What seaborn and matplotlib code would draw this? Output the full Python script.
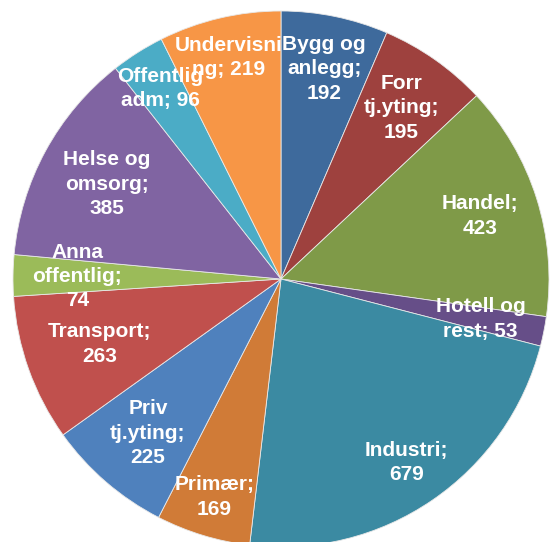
import numpy as np
import seaborn as sns
import matplotlib.pyplot as plt

# data (read clockwise from 12 o'clock)
categories = ["Bygg og anlegg", "Forr tj.yting", "Handel", "Hotell og rest",
              "Industri", "Primær", "Priv tj.yting", "Transport",
              "Anna offentlig", "Helse og omsorg", "Offentlig adm", "Undervisning"]
values = [192, 195, 423, 53, 679, 169, 225, 263, 74, 385, 96, 219]

# how Excel wrapped the labels
label_fmt = ["Bygg og\nanlegg;\n{}", "Forr\ntj.yting;\n{}", "Handel;\n{}",
             "Hotell og\nrest; {}", "Industri;\n{}", "Primær;\n{}",
             "Priv\ntj.yting;\n{}", "Transport;\n{}", "Anna\noffentlig;\n{}",
             "Helse og\nomsorg;\n{}", "Offentlig\nadm; {}", "Undervisni\nng; {}"]

colors = ["#3E6A9C", "#9E413E", "#7F9A48", "#664E88", "#3B8AA2", "#D07B37",
          "#4F81BD", "#C0504D", "#9BBB59", "#8064A2", "#4BACC6", "#F79646"]
label_r = [0.80, 0.78, 0.78, 0.76, 0.83, 0.85, 0.76, 0.72, 0.76, 0.74, 0.84, 0.85]

sns.set_theme(style="white")
plt.rcParams['font.family'] = ['Liberation Sans', 'DejaVu Sans']

fig = plt.figure(figsize=(5.53, 5.42), dpi=100)
R = 268
cx, cy = 281, 542 - 279
ax = fig.add_axes([(cx - R) / 553, (cy - R) / 542, 2 * R / 553, 2 * R / 542])

wedges, _ = ax.pie(values, colors=colors, startangle=90, counterclock=False,
                   radius=1, wedgeprops=dict(edgecolor="#E8E8E8", linewidth=0.6))

for w, fmt, v, r in zip(wedges, label_fmt, values, label_r):
    ang = np.deg2rad((w.theta1 + w.theta2) / 2)
    ax.text(r * np.cos(ang), r * np.sin(ang), fmt.format(v), ha="center", va="center",
            color="white", fontsize=15, fontweight="bold", linespacing=1.35)

ax.set_xlim(-1, 1)
ax.set_ylim(-1, 1)
ax.set_aspect("equal")
ax.axis("off")

plt.savefig("out.png", dpi=100)
